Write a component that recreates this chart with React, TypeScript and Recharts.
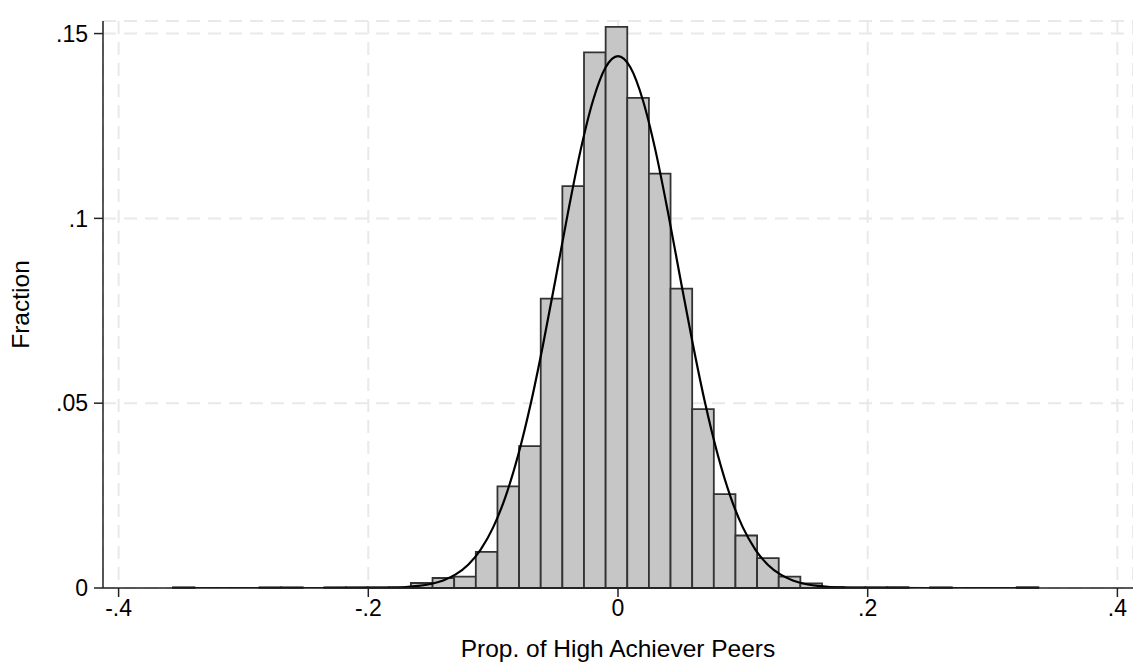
import React from 'react';
import {
	ComposedChart,
	Line,
	XAxis,
	YAxis,
	CartesianGrid,
	ReferenceArea,
} from 'recharts';

// histogram: 40 bins starting at the sample minimum
const BIN_START = -0.3565;
const BIN_WIDTH = 0.01733;
const FRACTIONS = [
	0.0002, 0, 0, 0, 0.0002, 0.0002, 0, 0.0002, 0.0002, 0.0002,
	0.0002, 0.00135, 0.0027, 0.0031, 0.0098, 0.0275, 0.0384, 0.0783, 0.1087, 0.1449,
	0.1518, 0.1326, 0.1121, 0.081, 0.0484, 0.0254, 0.0142, 0.0081, 0.0031, 0.00124,
	0.0003, 0.0002, 0.0002, 0.0002, 0, 0.0002, 0, 0, 0, 0.0002,
];

// normal density overlay
const CURVE_X = [
	-0.3565, -0.25, -0.2, -0.19, -0.18, -0.17, -0.16, -0.15, -0.14, -0.13, -0.12, -0.11, -0.1,
	-0.09, -0.08, -0.07, -0.06, -0.05, -0.04, -0.03, -0.02, -0.01, 0,
	0.01, 0.02, 0.03, 0.04, 0.05, 0.06, 0.07, 0.08, 0.09, 0.1,
	0.11, 0.12, 0.13, 0.14, 0.15, 0.16, 0.17, 0.18, 0.19, 0.2, 0.25, 0.3366,
];
const CURVE_Y = [
	0, 0, 0.00002, 0.00006, 0.00013, 0.00027, 0.00056, 0.00109, 0.00205, 0.00367, 0.0063, 0.0104, 0.0164,
	0.0248, 0.0359, 0.0497, 0.0659, 0.0836, 0.1017, 0.1184, 0.1319, 0.1408, 0.1439,
	0.1408, 0.1319, 0.1184, 0.1017, 0.0836, 0.0659, 0.0497, 0.0359, 0.0248, 0.0164,
	0.0104, 0.0063, 0.00367, 0.00205, 0.00109, 0.00056, 0.00027, 0.00013, 0.00006, 0.00002, 0, 0,
];

const X_TICKS = [-0.4, -0.2, 0, 0.2, 0.4];
const Y_TICKS = [0, 0.05, 0.1, 0.15];

const bins = FRACTIONS.map((value, i) => ({
	x1: BIN_START + i * BIN_WIDTH,
	x2: BIN_START + (i + 1) * BIN_WIDTH,
	value,
}));
const curve = CURVE_X.map((x, i) => ({ x, y: CURVE_Y[i] }));

const FONT = '"Liberation Sans", Arial, Helvetica, sans-serif';
const FS = 23;
const TITLE_FS = 24.5;
const fmt = (v: number) => String(v).replace(/^(-?)0\./, '$1.');

export default function App() {
	return (
		<div style={{ position: 'absolute', left: 0, top: 0, width: 1133, height: 667, background: '#fff', fontFamily: FONT }}>
			<ComposedChart width={1133} height={667} data={curve} margin={{ top: 21, right: 0, bottom: 0, left: 0 }}>
				<CartesianGrid stroke="#e9e9e9" strokeWidth={2} strokeDasharray="13 8" />
				<XAxis
					type="number"
					dataKey="x"
					domain={[-0.4125, 0.4125]}
					ticks={X_TICKS}
					tickFormatter={fmt}
					allowDataOverflow
					height={79}
					tickSize={9}
					tickMargin={3}
					stroke="#222"
					strokeWidth={1.5}
					tick={{ fill: '#000', fontSize: FS, fontFamily: FONT }}
					label={{ value: 'Prop. of High Achiever Peers', position: 'insideBottom', offset: 10, fill: '#000', fontSize: TITLE_FS, fontFamily: FONT }}
				/>
				<YAxis
					type="number"
					domain={[0, 0.1534]}
					ticks={Y_TICKS}
					tickFormatter={fmt}
					allowDataOverflow
					width={103}
					tickSize={9}
					tickMargin={6}
					stroke="#222"
					strokeWidth={1.5}
					tick={{ fill: '#000', fontSize: FS, fontFamily: FONT }}
					label={{
						value: 'Fraction',
						content: ({ viewBox }: any) => (
							<text
								x={viewBox.x + 20}
								y={viewBox.y + viewBox.height / 2}
								transform={`rotate(-90, ${viewBox.x + 20}, ${viewBox.y + viewBox.height / 2})`}
								textAnchor="middle"
								dominantBaseline="central"
								fill="#000"
								fontSize={TITLE_FS}
								fontFamily={FONT}
							>
								Fraction
							</text>
						),
					}}
				/>
				{bins.filter((b) => b.value > 0).map((b, i) => (
					<ReferenceArea
						key={`bin-${i}`}
						x1={b.x1}
						x2={b.x2}
						y1={0}
						y2={b.value}
						fill="#c6c6c6"
						fillOpacity={1}
						stroke="#333"
						strokeWidth={1.8}
					/>
				))}
				<Line
					type="monotone"
					dataKey="y"
					stroke="#000"
					strokeWidth={2.2}
					dot={false}
					isAnimationActive={false}
				/>
			</ComposedChart>
		</div>
	);
}
